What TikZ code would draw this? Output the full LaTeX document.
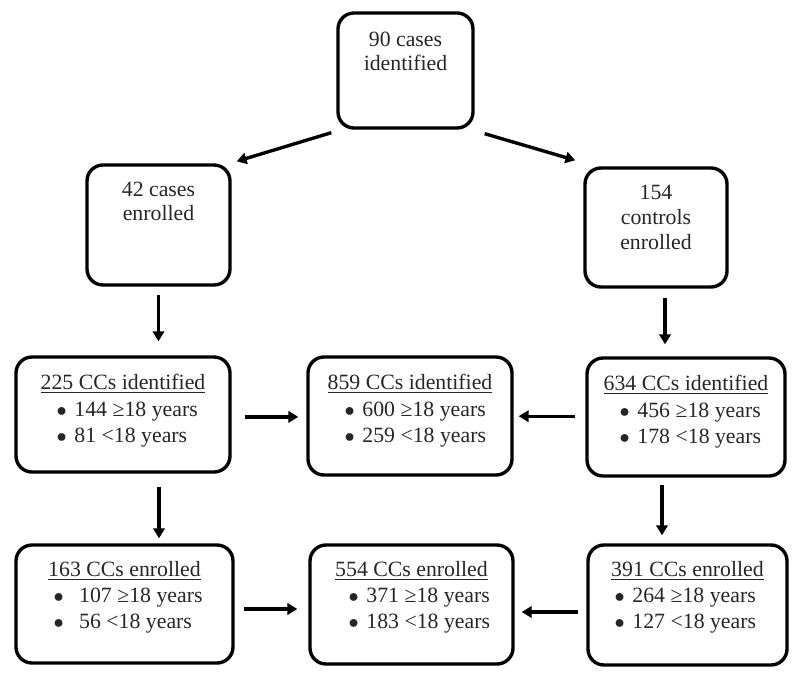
\documentclass[tikz,border=0pt]{standalone}
\usepackage{fontspec}
\setmainfont{Liberation Serif}
\usetikzlibrary{positioning,arrows.meta}

\newcommand{\blt}{$\bullet$}

\begin{document}
\begin{tikzpicture}[
    box/.style={draw, line width=2.4pt, rounded corners=0.4cm},
    arr/.style={line width=2.4pt, -{Triangle[length=7pt,width=8pt]}},
    txt/.style={inner sep=0pt, align=center, text=black!85, font=\fontsize{15.5}{17.5}\selectfont},
    list/.style={inner sep=0pt, align=left, text=black!85, font=\fontsize{15.5}{19}\selectfont},
  ]
    \useasboundingbox (0,0) rectangle (20,-17.025);

    % Top level
    \node[box, minimum width=3.375cm, minimum height=2.875cm] (ident) at (10.1375,-1.7625) {};
    \node[txt, anchor=north] (identtxt) at ([yshift=-0.5cm]ident.north) {90 cases\\identified};

    % Cases and controls
    \node[box, minimum width=3.575cm, minimum height=3cm] (cases) at (3.9625,-5.625) {};
    \node[txt, anchor=north] (casestxt) at ([yshift=-0.45cm]cases.north) {42 cases\\enrolled};
    \node[box, minimum width=3.55cm, minimum height=2.975cm] (ctrls) at (16.4,-5.6875) {};
    \node[txt, anchor=north] (ctrlstxt) at ([yshift=-0.475cm]ctrls.north) {154\\controls\\enrolled};

    % Close contacts identified
    \node[box, minimum width=5.35cm, minimum height=2.875cm] (idl) at (3.075,-10.3625) {};
    \node[txt, anchor=north] (idltitle) at ([yshift=-0.475cm]idl.north) {\underline{225 CCs identified}};
    \node[list, anchor=north west] (idllist) at ([xshift=1.05cm,yshift=-1.15cm]idl.north west)
        {\blt\hspace{5.5pt}144 ≥18 years\\\blt\hspace{5.5pt}81 <18 years};

    \node[box, minimum width=5.1cm, minimum height=2.95cm] (idm) at (10.25,-10.4) {};
    \node[txt, anchor=north] (idmtitle) at ([yshift=-0.475cm]idm.north) {\underline{859 CCs identified}};
    \node[list, anchor=north west] (idmlist) at ([xshift=0.95cm,yshift=-1.15cm]idm.north west)
        {\blt\hspace{5.5pt}600 ≥18 years\\\blt\hspace{5.5pt}259 <18 years};

    \node[box, minimum width=4.95cm, minimum height=2.95cm] (idr) at (17.15,-10.425) {};
    \node[txt, anchor=north] (idrtitle) at ([yshift=-0.475cm]idr.north) {\underline{634 CCs identified}};
    \node[list, anchor=north west] (idrlist) at ([xshift=0.85cm,yshift=-1.15cm]idr.north west)
        {\blt\hspace{5.5pt}456 ≥18 years\\\blt\hspace{5.5pt}178 <18 years};

    % Close contacts enrolled
    \node[box, minimum width=5.425cm, minimum height=2.95cm] (enl) at (3.1125,-15.1) {};
    \node[txt, anchor=north] (enltitle) at ([yshift=-0.45cm]enl.north) {\underline{163 CCs enrolled}};
    \node[list, anchor=north west] (enllist) at ([xshift=0.975cm,yshift=-1.1cm]enl.north west)
        {\blt\hspace{11pt}107 ≥18 years\\\blt\hspace{11pt}56 <18 years};

    \node[box, minimum width=5.075cm, minimum height=2.975cm] (enm) at (10.2875,-15.1125) {};
    \node[txt, anchor=north] (enmtitle) at ([yshift=-0.45cm]enm.north) {\underline{554 CCs enrolled}};
    \node[list, anchor=north west] (enmlist) at ([xshift=1.0cm,yshift=-1.1cm]enm.north west)
        {\blt\hspace{5.5pt}371 ≥18 years\\\blt\hspace{5.5pt}183 <18 years};

    \node[box, minimum width=4.975cm, minimum height=3cm] (enr) at (17.1875,-15.125) {};
    \node[txt, anchor=north] (enrtitle) at ([yshift=-0.45cm]enr.north) {\underline{391 CCs enrolled}};
    \node[list, anchor=north west] (enrlist) at ([xshift=0.7cm,yshift=-1.1cm]enr.north west)
        {\blt\hspace{5.5pt}264 ≥18 years\\\blt\hspace{5.5pt}127 <18 years};

    % Arrows from the top
    \draw[arr] ([shift={(-0.125,-0.075)}]ident.south west) -- ([shift={(0.125,0.05)}]cases.north east);
    \draw[arr] ([shift={(0.25,-0.1)}]ident.south east) -- ([shift={(-0.2,0.15)}]ctrls.north west);

    % Down to identified
    \draw[arr, shorten <=0.2cm, shorten >=0.35cm] (cases.south) -- (cases.south |- idl.north);
    \draw[arr, shorten <=0.225cm, shorten >=0.3cm] ([xshift=0.225cm]ctrls.south) -- ([xshift=0.225cm]ctrls.south |- idr.north);

    % Down to enrolled
    \draw[arr, shorten <=0.325cm, shorten >=0.125cm] ([xshift=0.9cm]idl.south) -- ([xshift=0.9cm]idl.south |- enl.north);
    \draw[arr, shorten <=0.175cm, shorten >=0.2cm] ([xshift=-0.6cm]idr.south) -- ([xshift=-0.6cm]idr.south |- enr.north);

    % Into the totals
    \draw[arr, shorten <=0.325cm, shorten >=0.2cm] ([yshift=-0.06cm]idl.east) -- ([yshift=-0.06cm]idl.east -| idm.west);
    \draw[arr, shorten <=0.25cm, shorten >=0.125cm] ([yshift=0.02cm]idr.west) -- ([yshift=0.02cm]idr.west -| idm.east);
    \draw[arr, shorten <=0.225cm, shorten >=0.275cm] ([yshift=-0.125cm]enl.east) -- ([yshift=-0.125cm]enl.east -| enm.west);
    \draw[arr, shorten <=0.2cm, shorten >=0.175cm] ([yshift=-0.175cm]enr.west) -- ([yshift=-0.175cm]enr.west -| enm.east);
\end{tikzpicture}
\end{document}
